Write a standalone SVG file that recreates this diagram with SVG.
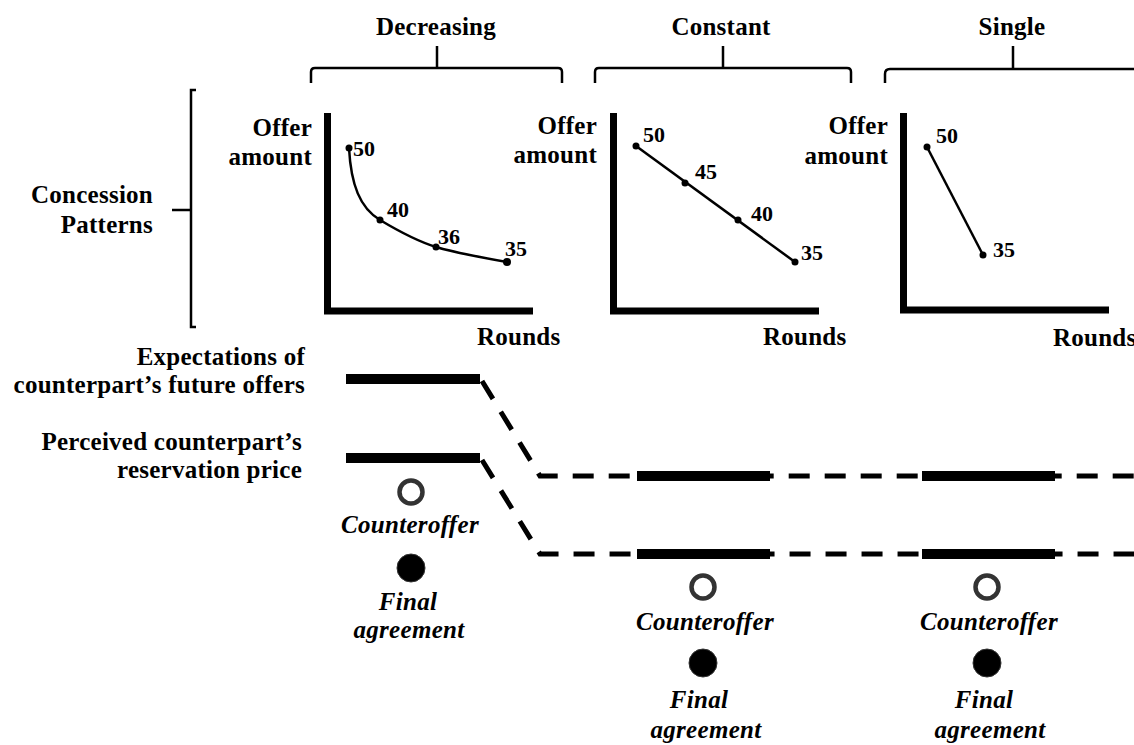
<svg xmlns="http://www.w3.org/2000/svg" width="1134" height="745" viewBox="0 0 1134 745">
<style>
text{font-family:"Liberation Serif","Times New Roman",serif;font-weight:bold;fill:#000}
.lb{font-size:25px;letter-spacing:0.25px}
.it{font-size:25px;font-style:italic;letter-spacing:0.3px}
.num{font-size:22px}
.e{text-anchor:end}
.m{text-anchor:middle}
.brace{fill:none;stroke:#000;stroke-width:2.5}
.axis{fill:none;stroke:#000;stroke-width:7}
.curve{fill:none;stroke:#000;stroke-width:2.5}
.dot{fill:#000}
.bar{stroke:#000;stroke-width:10}
.dash{fill:none;stroke:#000;stroke-width:5;stroke-dasharray:21 15;stroke-linejoin:miter}
.open{fill:#fff;stroke:#333;stroke-width:4.5}
.fill{fill:#000;stroke:#333;stroke-width:1}
</style>
<rect width="1134" height="745" fill="#fff"/>

<g id="header-decreasing">
<text class="lb m" x="436" y="35">Decreasing</text>
<path class="brace" d="M311,83 V72 Q311,68 315,68 H558 Q562,68 562,72 V83 M437,68 V46"/>
</g>
<g id="header-constant">
<text class="lb m" x="721" y="35">Constant</text>
<path class="brace" d="M595,83 V72 Q595,68 599,68 H847 Q851,68 851,72 V83 M723,68 V46"/>
</g>
<g id="header-single">
<text class="lb m" x="1012" y="35">Single</text>
<path class="brace" d="M885,83 V74 Q885,69 890,69 H1134 M1013,69 V46"/>
</g>

<g id="concession-patterns">
<text class="lb e" x="153" y="203">Concession</text>
<text class="lb e" x="153" y="233">Patterns</text>
<path class="brace" d="M196,90 H191 V327 H196 M172,210 H191"/>
</g>

<g id="chart-decreasing">
<text class="lb e" x="312" y="136">Offer</text>
<text class="lb e" x="312" y="165">amount</text>
<path class="axis" d="M327.5,113 V311 H533"/>
<path class="curve" d="M349,148 C351,185 360,208 380,220 S420,242 436,247 S490,259 507,262"/>
<circle class="dot" cx="349" cy="148" r="3.5"/>
<circle class="dot" cx="380" cy="220" r="3.5"/>
<circle class="dot" cx="436" cy="247" r="3.5"/>
<circle class="dot" cx="507" cy="262" r="4"/>
<text class="num" x="353" y="156">50</text>
<text class="num" x="387" y="217">40</text>
<text class="num" x="438" y="244">36</text>
<text class="num" x="505" y="256">35</text>
<text class="lb" x="477" y="345">Rounds</text>
</g>

<g id="chart-constant">
<text class="lb e" x="597" y="134">Offer</text>
<text class="lb e" x="597" y="163">amount</text>
<path class="axis" d="M613.5,113 V311 H819"/>
<path class="curve" d="M636,146 L795,262"/>
<circle class="dot" cx="636" cy="146" r="3.5"/>
<circle class="dot" cx="685" cy="183" r="3.5"/>
<circle class="dot" cx="738" cy="220" r="3.5"/>
<circle class="dot" cx="795" cy="262" r="3.5"/>
<text class="num" x="643" y="142">50</text>
<text class="num" x="695" y="179">45</text>
<text class="num" x="751" y="221">40</text>
<text class="num" x="801" y="260">35</text>
<text class="lb" x="763" y="345">Rounds</text>
</g>

<g id="chart-single">
<text class="lb e" x="888" y="134">Offer</text>
<text class="lb e" x="888" y="164">amount</text>
<path class="axis" d="M903.5,113 V310 H1109"/>
<path class="curve" d="M927,147 L983,255"/>
<circle class="dot" cx="927" cy="147" r="3.5"/>
<circle class="dot" cx="983" cy="255" r="3.5"/>
<text class="num" x="936" y="143">50</text>
<text class="num" x="993" y="257">35</text>
<text class="lb" x="1053" y="346">Rounds</text>
</g>

<g id="row-labels">
<text class="lb e" x="305" y="365">Expectations of</text>
<text class="lb e" x="305" y="393">counterpart’s future offers</text>
<text class="lb e" x="302" y="450">Perceived counterpart’s</text>
<text class="lb e" x="302" y="478">reservation price</text>
</g>

<g id="connectors">
<path class="dash" d="M482,381 L540,476 H1134"/>
<path class="dash" d="M482,460 L540,554 H1134"/>
</g>

<g id="bars">
<line class="bar" x1="346" y1="379" x2="480" y2="379"/>
<line class="bar" x1="346" y1="458" x2="480" y2="458"/>
<line class="bar" x1="637" y1="476" x2="770" y2="476"/>
<line class="bar" x1="637" y1="554" x2="770" y2="554"/>
<line class="bar" x1="922" y1="476" x2="1055" y2="476"/>
<line class="bar" x1="922" y1="554" x2="1055" y2="554"/>
</g>

<g id="legend-decreasing">
<circle class="open" cx="411" cy="492" r="11.5"/>
<text class="it m" x="410" y="533">Counteroffer</text>
<circle class="fill" cx="411" cy="568" r="14"/>
<text class="it m" x="408" y="610">Final</text>
<text class="it m" x="409" y="638">agreement</text>
</g>

<g id="legend-constant">
<circle class="open" cx="703" cy="587" r="11.5"/>
<text class="it m" x="705" y="630">Counteroffer</text>
<circle class="fill" cx="703" cy="663" r="14"/>
<text class="it m" x="699" y="708">Final</text>
<text class="it m" x="706" y="738">agreement</text>
</g>

<g id="legend-single">
<circle class="open" cx="987" cy="587" r="11.5"/>
<text class="it m" x="989" y="630">Counteroffer</text>
<circle class="fill" cx="987" cy="663" r="14"/>
<text class="it m" x="984" y="708">Final</text>
<text class="it m" x="990" y="738">agreement</text>
</g>
</svg>
